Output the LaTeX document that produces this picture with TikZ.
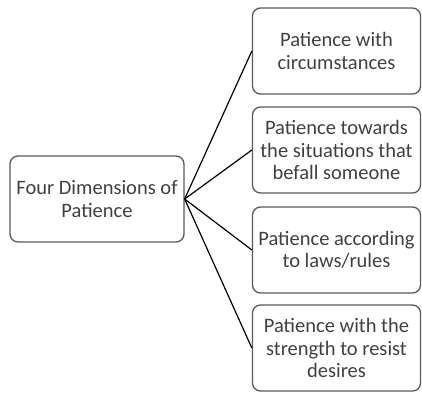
\documentclass[tikz,border=0pt]{standalone}
\usepackage{fontspec}
\setmainfont{Carlito}
\usepackage{tikz}
\usetikzlibrary{positioning}
\tikzset{basic/.style={draw=black!65,rounded corners=8pt,line width=1.3pt,text badly centered,text=black!75,font=\fontsize{20.5}{22.5}\selectfont,inner sep=2pt}}
\tikzset{topic/.style={basic,minimum width=174pt,minimum height=86pt,text width=170pt}}
\tikzset{dimension/.style={basic,minimum width=167pt,minimum height=86pt,text width=164pt}}
\tikzset{link/.style={draw,line width=1.2pt}}

\begin{document}
\begin{tikzpicture}[x=1pt,y=1pt]
                \useasboundingbox (0,0) rectangle (422,-392);
                \node[topic] (four) at (97,-199) {Four Dimensions of\\Patience};
                \node[dimension] (d1) at (336.5,-51) {Patience with\\circumstances};
                \node[dimension] (d2) at (336.5,-150) {Patience towards\\the situations that\\befall someone};
                \node[dimension] (d3) at (336.5,-250) {Patience according\\to laws/rules};
                \node[dimension] (d4) at (336.5,-348) {Patience with the\\strength to resist\\desires};
                    \path[link] (four.east) -- (d1.west);
                    \path[link] (four.east) -- (d2.west);
                    \path[link] (four.east) -- (d3.west);
                    \path[link] (four.east) -- (d4.west);
            \end{tikzpicture}
\end{document}
